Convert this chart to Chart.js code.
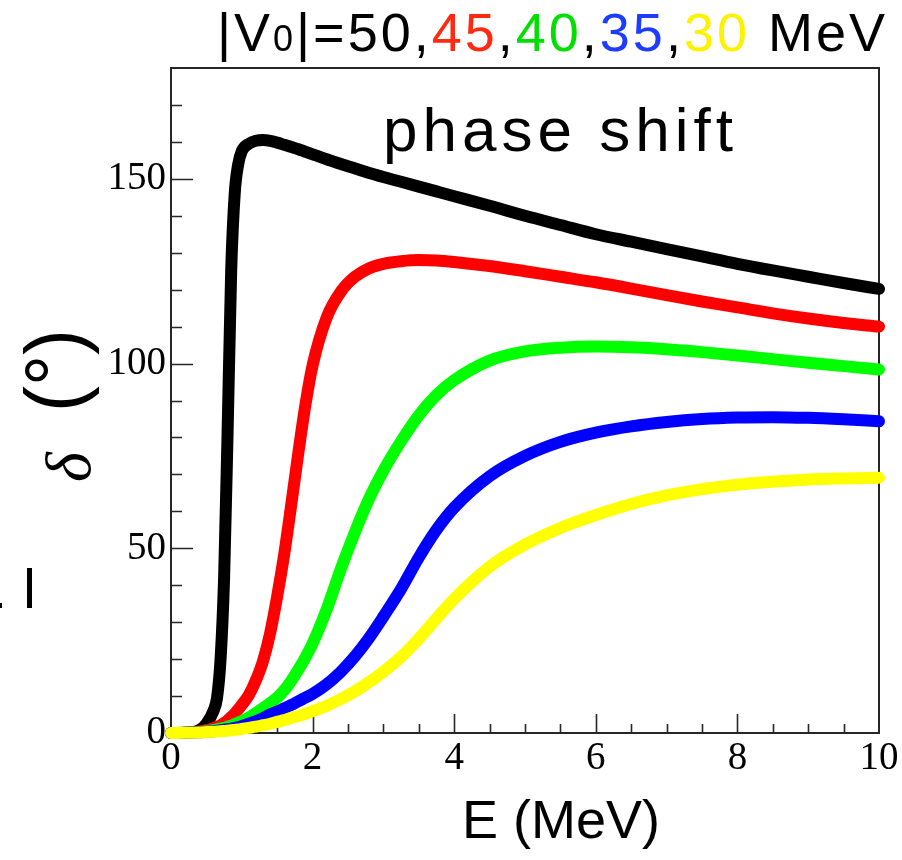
<!DOCTYPE html>
<html>
<head>
<meta charset="utf-8">
<title>phase shift</title>
<script src="https://cdn.jsdelivr.net/npm/chart.js@4.4.1/dist/chart.umd.min.js"></script>
<style>
  html, body { margin: 0; padding: 0; background: #fff; }
  #wrap { width: 902px; height: 860px; }
</style>
</head>
<body>
<div id="wrap"><canvas id="phaseChart" width="902" height="860"></canvas></div>
<script>
// energy grid (MeV), denser where the curves rise steeply
const energy = [0, 0.2, 0.4, 0.5, 0.6, 0.65, 0.7, 0.75, 0.8, 0.85,
  0.9, 0.95, 1.0, 1.1, 1.2, 1.3, 1.4, 1.5, 1.6, 1.7,
  1.8, 1.9, 2.0, 2.2, 2.4, 2.6, 2.8, 3.0, 3.25, 3.5,
  3.75, 4.0, 4.5, 5.0, 5.5, 6.0, 6.5, 7.0, 7.5, 8.0,
  8.5, 9.0, 9.5, 10];

// well depths |V0| in MeV
const depths = ['50', '45', '40', '35', '30'];

// phase shift delta (degrees) for each depth
const delta50 = [0, 0.1, 0.8, 2.5, 6, 9.5, 20, 42, 82, 125,
  146, 154, 157.5, 159.5, 160.3, 160.5, 160.3, 159.8, 159.2, 158.6,
  158, 157.3, 156.6, 155.3, 154, 152.8, 151.6, 150.5, 149.2, 147.9,
  146.6, 145.3, 142.7, 140, 137.5, 135, 133, 131, 129, 127,
  125.2, 123.5, 121.8, 120.2];
const delta45 = [0, 0.1, 0.4, 0.8, 1.3, 1.7, 2.1, 2.7, 3.4, 4.3,
  5.3, 6.4, 7.6, 10.3, 14.3, 19.5, 27, 37, 48.5, 62,
  76, 89, 99.5, 112.5, 119.5, 123.5, 125.8, 127, 127.7, 128,
  127.9, 127.5, 126.4, 125, 123.5, 122, 120.3, 118.5, 116.8, 115.2,
  113.6, 112.2, 111, 110];
const delta40 = [0, 0.1, 0.3, 0.5, 0.8, 1.0, 1.2, 1.4, 1.7, 2.0,
  2.4, 2.8, 3.2, 4.2, 5.4, 6.7, 8.1, 9.6, 11.6, 14.2,
  17.2, 20.5, 24.2, 33.5, 44.5, 54.5, 63.5, 71, 79, 86,
  91.5, 95.5, 100.8, 103.3, 104.3, 104.6, 104.4, 103.9, 103.1, 102.2,
  101.2, 100.2, 99.3, 98.4];
const delta35 = [0, 0.05, 0.2, 0.35, 0.5, 0.6, 0.75, 0.9, 1.05, 1.2,
  1.4, 1.6, 1.9, 2.5, 3.2, 4.0, 5.0, 5.8, 6.7, 7.6,
  8.6, 9.6, 10.6, 13.2, 16.6, 20.8, 25.8, 31.5, 39, 47.5,
  55, 61, 69.5, 75, 78.8, 81.3, 83, 84.2, 85, 85.4,
  85.5, 85.3, 84.9, 84.4];
const delta30 = [0, 0.05, 0.15, 0.25, 0.35, 0.4, 0.5, 0.55, 0.65, 0.75,
  0.85, 0.95, 1.1, 1.4, 1.7, 2.1, 2.5, 3.0, 3.5, 4.1,
  4.6, 5.2, 5.9, 7.4, 9.2, 11.3, 13.8, 16.6, 20.6, 25.5,
  31, 36.3, 45, 51, 55.5, 59, 62, 64.3, 66, 67.2,
  68, 68.6, 68.9, 69.1];

const series = [delta50, delta45, delta40, delta35, delta30];
const lineColors = ['#000000', '#ff0000', '#00ff00', '#0000ff', '#ffff00'];
const titleColors = ['#000000', '#ff2a12', '#00e000', '#1d3cff', '#fff200'];

const SERIF = '"Liberation Serif", "Times New Roman", serif';
const SANS = '"Liberation Sans", Arial, sans-serif';

// draws runs of text char by char, spread so the whole run spans `width`
function spreadText(ctx, parts, x, y, width) {
  const chars = [];
  parts.forEach(p => {
    ctx.font = p.font;
    for (const c of p.text) {
      chars.push({ c, font: p.font, color: p.color, w: ctx.measureText(c).width });
    }
  });
  const natural = chars.reduce((s, ch) => s + ch.w, 0);
  const gap = chars.length > 1 ? (width - natural) / (chars.length - 1) : 0;
  let cx = x;
  chars.forEach(ch => {
    ctx.font = ch.font;
    ctx.fillStyle = ch.color;
    ctx.fillText(ch.c, cx, y);
    cx += ch.w + gap;
  });
}

// box frame with inward ticks (left and bottom)
const frameTicks = {
  id: 'frameTicks',
  beforeDatasetsDraw(chart) {
    const { ctx, chartArea: a, scales: { x, y } } = chart;
    ctx.save();
    ctx.strokeStyle = '#262626';
    ctx.lineWidth = 2;
    ctx.strokeRect(a.left, a.top, a.right - a.left, a.bottom - a.top);
    ctx.lineWidth = 1.6;
    ctx.beginPath();
    for (let v = y.min + 10; v < y.max; v += 10) {
      const py = Math.round(y.getPixelForValue(v)) + 0.5;
      const len = v % 50 === 0 ? 22 : 11;
      ctx.moveTo(a.left, py);
      ctx.lineTo(a.left + len, py);
    }
    for (let v = x.min + 0.5; v < x.max; v += 0.5) {
      const px = Math.round(x.getPixelForValue(v)) + 0.5;
      const len = v % 2 === 0 ? 19 : 9;
      ctx.moveTo(px, a.bottom);
      ctx.lineTo(px, a.bottom - len);
    }
    ctx.stroke();
    ctx.restore();
  }
};

// heading, axis titles and label inside the plot
const labels = {
  id: 'labels',
  afterDraw(chart) {
    const ctx = chart.ctx;
    ctx.save();
    ctx.textAlign = 'left';
    ctx.textBaseline = 'alphabetic';

    const big = '54px ' + SANS;
    const parts = [
      { text: '|V', font: big, color: '#000' },
      { text: '0', font: '36px ' + SANS, color: '#000' },
      { text: '|=', font: big, color: '#000' }
    ];
    depths.forEach((d, i) => {
      if (i > 0) parts.push({ text: ',', font: big, color: '#000' });
      parts.push({ text: d, font: big, color: titleColors[i] });
    });
    parts.push({ text: ' MeV', font: big, color: '#000' });
    spreadText(ctx, parts, 217, 51, 668);

    spreadText(ctx, [{ text: 'phase shift', font: '62px ' + SANS, color: '#000' }], 383, 151, 350);
    spreadText(ctx, [{ text: 'E (MeV)', font: '54px ' + SANS, color: '#000' }], 462, 838, 198);

    // vertical axis title, reads bottom to top
    ctx.fillStyle = '#000';
    ctx.save();
    ctx.translate(90, 482);
    ctx.rotate(-Math.PI / 2);
    ctx.font = 'italic 64px ' + SERIF;
    ctx.fillText('δ', 0, 0);
    ctx.restore();
    ctx.save();
    ctx.translate(82, 412);
    ctx.rotate(-Math.PI / 2);
    ctx.scale(0.95, 1);
    ctx.font = '82px ' + SANS;
    ctx.fillText('(°)', 0, 0);
    ctx.restore();

    // clipped marks at the left edge
    ctx.fillRect(27, 568, 5, 40);
    ctx.fillRect(0, 603, 2, 5);
    ctx.restore();
  }
};

const datasets = series.map((vals, i) => ({
  label: '|V0|=' + depths[i] + ' MeV',
  data: energy.map((e, k) => ({ x: e, y: vals[k] })),
  showLine: true,
  borderColor: lineColors[i],
  backgroundColor: lineColors[i],
  borderWidth: 12,
  borderCapStyle: 'round',
  borderJoinStyle: 'round',
  pointRadius: 0,
  cubicInterpolationMode: 'monotone',
  clip: false,
  order: series.length - 1 - i
}));

new Chart(document.getElementById('phaseChart'), {
  type: 'scatter',
  data: { datasets },
  options: {
    responsive: false,
    animation: false,
    layout: { padding: { top: 68, right: 23, left: 0, bottom: 0 } },
    plugins: {
      legend: { display: false },
      tooltip: { enabled: false },
      title: { display: false }
    },
    scales: {
      x: {
        type: 'linear',
        min: 0,
        max: 10,
        grid: { display: false, drawTicks: false },
        border: { display: false },
        ticks: {
          stepSize: 2,
          padding: 2,
          color: '#000',
          font: { family: SERIF, size: 39 }
        },
        afterFit(scale) { scale.height = 127; }
      },
      y: {
        type: 'linear',
        min: 0,
        max: 180,
        grid: { display: false, drawTicks: false },
        border: { display: false },
        ticks: {
          stepSize: 50,
          padding: 5,
          color: '#000',
          font: { family: SERIF, size: 39 }
        },
        afterBuildTicks(scale) {
          scale.ticks = scale.ticks.filter(t => t.value % 50 === 0);
        },
        afterFit(scale) { scale.width = 171; }
      }
    }
  },
  plugins: [frameTicks, labels]
});
</script>
</body>
</html>
